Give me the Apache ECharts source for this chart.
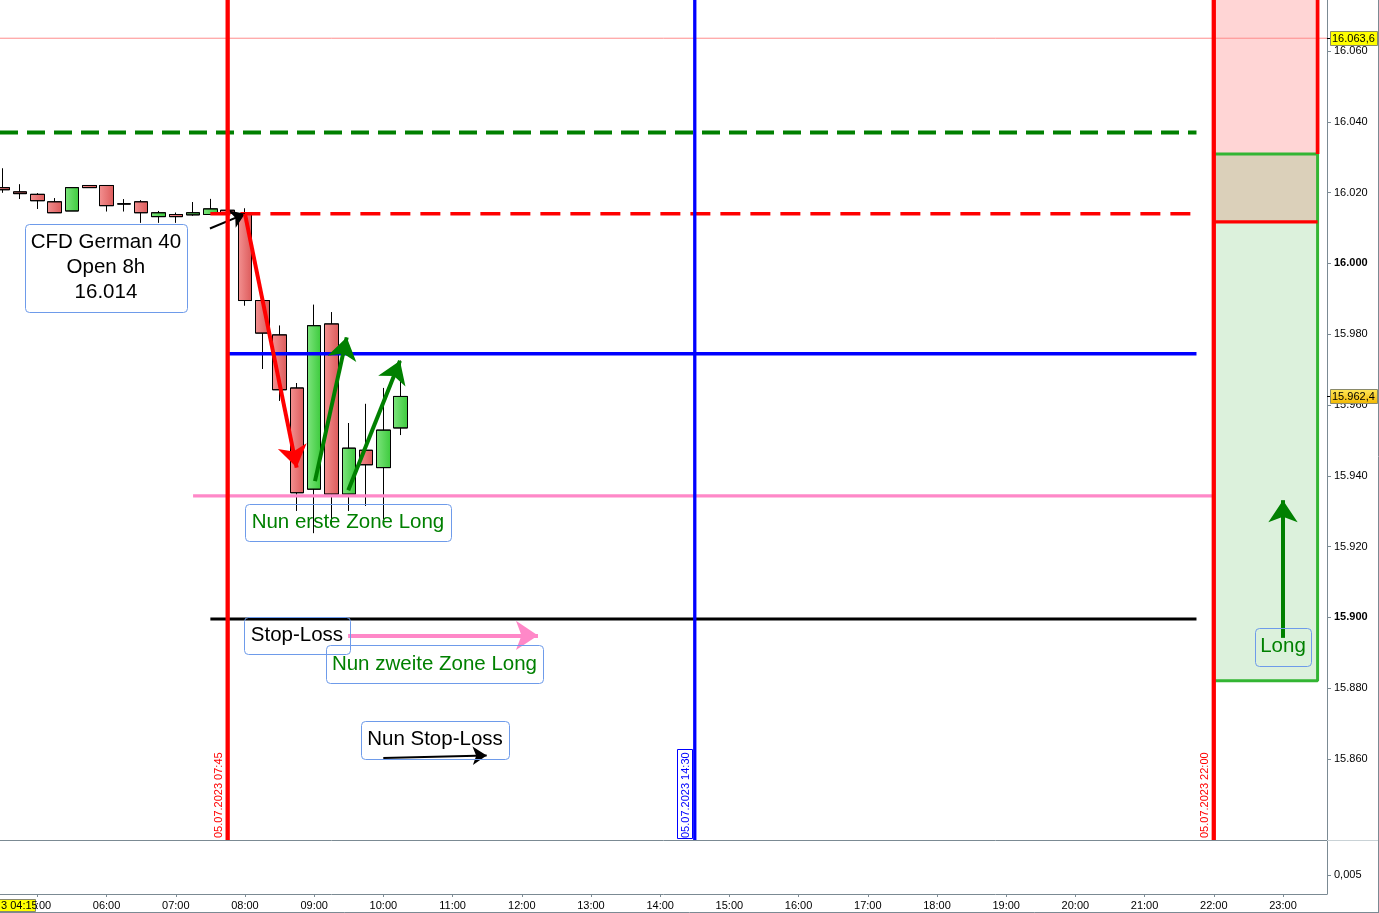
<!DOCTYPE html>
<html><head><meta charset="utf-8">
<script src="https://cdn.jsdelivr.net/npm/echarts@6/dist/echarts.min.js"></script>
<style>html,body{margin:0;padding:0;background:#fff;overflow:hidden}#c{width:1379px;height:913px}</style>
</head><body><div id="c"></div>
<script>
// ---------- data ----------
const hourTicks = [5,6,7,8,9,10,11,12,13,14,15,16,17,18,19,20,21,22,23];
const priceTicks = [15860,15880,15900,15920,15940,15960,15980,16000,16020,16040,16060];
const candleTimes = ['04:30','04:45','05:00','05:15','05:30','05:45','06:00','06:15','06:30','06:45','07:00','07:15','07:30','07:45','08:00','08:15','08:30','08:45','09:00','09:15','09:30','09:45','10:00','10:15'];
const candleOpen  = [16021.4,16020.2,16019.5,16017.4,16014.8,16022.0,16022.0,16016.8,16017.4,16013.2,16013.8,16013.7,16013.8,16015.0,16014.0,15989.5,15979.8,15964.8,15936.2,15982.9,15934.8,15947.2,15942.3,15953.5];
const candleClose = [16020.8,16019.7,16017.7,16014.3,16021.4,16021.4,16016.3,16016.8,16014.3,16014.3,16013.2,16014.3,16015.4,16014.2,15989.5,15980.3,15964.3,15935.2,15982.4,15934.8,15947.8,15943.1,15952.9,15962.4];
const candleLow   = [16020.0,16018.2,16015.4,16014.3,16014.8,16021.4,16014.7,16014.7,16011.5,16011.5,16011.5,16013.5,16013.8,16013.8,15988.1,15970.2,15961.2,15930.1,15923.8,15926.4,15930.1,15931.5,15927.8,15951.5];
const candleHigh  = [16026.8,16022.3,16019.8,16018.4,16021.4,16022.0,16022.0,16018.1,16017.8,16014.8,16014.3,16017.3,16018.2,16015.5,16015.5,15990.0,15982.4,15966.2,15988.3,15986.2,15954.9,15960.3,15964.8,15972.5];

const levelThin = 16063.6;
const levelGreenDash = 16037.0;
const levelOpen = 16014.0;
const levelBlue = 15974.5;
const levelPink = 15934.3;
const levelStop = 15899.5;
const lastPrice = 15962.4;

const zoneTimes = ['22:00','23:30'];
const zoneRedLow = 16011.7;
const zoneGreenHigh = 16030.9;
const zoneGreenLow = 15882.1;

const markerTimes = ['07:45','14:30','22:00'];
const markerLabels = ['05.07.2023 07:45','05.07.2023 14:30','05.07.2023 22:00'];

const noteTexts = ['CFD German 40\nOpen 8h\n16.014','Nun erste Zone Long','Stop-Loss','Nun zweite Zone Long','Nun Stop-Loss','Long'];
const noteAnchors = [[5.991,15998.8],[9.488,15926.8],[8.751,15894.85],[10.738,15886.8],[10.746,15865.3],[23.0,15891.6]];

const arrowFrom = [[7.494,16009.85],[8.0,16014.0],[9.012,15938.5],[9.493,15935.9],[9.49,15894.9],[9.999,15860.3],[23.0,15894.2]];
const arrowTo   = [[8.0,16014.0],[8.747,15942.3],[9.470,15979.1],[10.240,15972.5],[12.234,15894.9],[11.493,15861.0],[23.0,15933.1]];

// ---------- helpers ----------
const toH = s => { const [h,m] = s.split(':').map(Number); return h + m/60; };
const FONT = '"Liberation Sans", Arial, sans-serif';
const axisColor = '#7b8a93';
const xMin = 4.46, xMax = 23.636;
const yMin = 15837.1, yMax = 16074.4;
const fmtPrice = v => { const r = Math.round(v); const t = Math.floor(r/1000); const u = String(r%1000).padStart(3,'0'); return t + '.' + u; };

function seg(points, color, width, type, z) {
  return { type:'line', xAxisIndex:0, yAxisIndex:0, data:points, showSymbol:false, symbol:'none',
    lineStyle:{color, width, type: type || 'solid', cap:'butt'}, z: z || 4, silent:true, animation:false };
}

const chart = echarts.init(document.getElementById('c'), null, {renderer:'canvas'});

const candleData = candleTimes.map((t,i) => [toH(t), candleOpen[i], candleClose[i], candleLow[i], candleHigh[i]]);
const zx0 = toH(zoneTimes[0]), zx1 = toH(zoneTimes[1]);
const endH = toH('21:45');

const series = [
  { type:'line', xAxisIndex:0, yAxisIndex:0, data:[], z:1, silent:true,
    markArea:{ silent:true, data:[
      [{coord:[zx0, zoneGreenHigh], itemStyle:{color:'#ffd5d5'}}, {coord:[zx1, yMax]}],
      [{coord:[zx0, zoneRedLow], itemStyle:{color:'#dbd0ba'}}, {coord:[zx1, zoneGreenHigh]}],
      [{coord:[zx0, zoneGreenLow], itemStyle:{color:'#dcf1dc'}}, {coord:[zx1, zoneRedLow]}]
    ]}},
  { type:'candlestick', xAxisIndex:0, yAxisIndex:0, z:3, barWidth:14,
    dimensions:['t','open','close','low','high'], encode:{x:0, y:[1,2,3,4]},
    data: candleData, animation:false,
    itemStyle:{
      color: new echarts.graphic.LinearGradient(0,0,1,0,[{offset:0,color:'#7ee57e'},{offset:1,color:'#3cca3c'}]),
      color0: new echarts.graphic.LinearGradient(0,0,1,0,[{offset:0,color:'#f39191'},{offset:1,color:'#dc5a5a'}]),
      borderColor:'#000', borderColor0:'#000', borderWidth:1
    }},
  // horizontal levels
  seg([[xMin, levelThin],[xMax, levelThin]], '#ff8c8c', 1, 'solid', 5),
  seg([[xMin, levelGreenDash],[endH, levelGreenDash]], '#008000', 4, [18,9], 4),
  seg([[toH('07:30'), levelOpen],[endH, levelOpen]], '#ff0000', 3.5, [20,10], 4),
  seg([[toH('07:45'), levelBlue],[endH, levelBlue]], '#0000ff', 3.5, 'solid', 4),
  seg([[toH('07:15'), levelPink],[zx0, levelPink]], '#ff88c8', 3.3, 'solid', 4),
  seg([[toH('07:30'), levelStop],[endH, levelStop]], '#000000', 3, 'solid', 4),
  // zone borders
  seg([[zx0, zoneGreenHigh],[zx1, zoneGreenHigh],[zx1, zoneGreenLow],[zx0, zoneGreenLow]], '#33b533', 3, 'solid', 4),
  seg([[zx0, zoneRedLow],[zx1, zoneRedLow]], '#ff0000', 3.3, 'solid', 5),
  seg([[zx1, yMax],[zx1, zoneGreenHigh]], '#ff0000', 3.7, 'solid', 5),
  // vertical markers
  seg([[toH(markerTimes[0]), yMin],[toH(markerTimes[0]), yMax]], '#ff0000', 4.3, 'solid', 6),
  seg([[toH(markerTimes[1]), yMin],[toH(markerTimes[1]), yMax]], '#0000ff', 3.3, 'solid', 6),
  seg([[toH(markerTimes[2]), yMin],[toH(markerTimes[2]), yMax]], '#ff0000', 4.3, 'solid', 6)
];

const option = {
  animation:false,
  backgroundColor:'#ffffff',
  grid:[
    {left:0, top:0, width:1327, height:840, show:false},
    {left:0, top:840, width:1327, height:54, show:false}
  ],
  xAxis:[
    {type:'value', gridIndex:0, min:xMin, max:xMax, axisLine:{show:true, onZero:false, lineStyle:{color:axisColor}},
     axisTick:{show:false}, axisLabel:{show:false}, splitLine:{show:false}},
    {type:'value', gridIndex:1, min:xMin, max:xMax, axisLine:{show:true, onZero:false, lineStyle:{color:axisColor}},
     axisTick:{show:true, customValues:hourTicks, length:3, lineStyle:{color:axisColor}},
     axisLabel:{customValues:hourTicks, formatter: v => String(Math.round(v)).padStart(2,'0') + ':00',
       color:'#000', fontSize:11, fontFamily:FONT, margin:6}, splitLine:{show:false}}
  ],
  yAxis:[
    {type:'value', gridIndex:0, position:'right', min:yMin, max:yMax, splitLine:{show:false},
     axisLine:{show:true, onZero:false, lineStyle:{color:axisColor}},
     axisTick:{show:true, customValues:priceTicks, length:4, lineStyle:{color:axisColor}},
     axisLabel:{customValues:priceTicks, color:'#000', fontSize:11, fontFamily:FONT, margin:7,
       formatter: v => (Math.round(v) % 100 === 0 ? '{b|' + fmtPrice(v) + '}' : fmtPrice(v)),
       rich:{b:{fontWeight:'bold', fontSize:11, fontFamily:FONT, color:'#000'}}}},
    {type:'value', gridIndex:1, position:'right', min:0, max:0.0142, splitLine:{show:false},
     axisLine:{show:true, onZero:false, lineStyle:{color:axisColor}},
     axisTick:{show:true, customValues:[0.005], length:4, lineStyle:{color:axisColor}},
     axisLabel:{customValues:[0.005], formatter: () => '0,005', color:'#000', fontSize:11, fontFamily:FONT, margin:7}}
  ],
  series
};
chart.setOption(option);

// ---------- annotations (placed from data coordinates) ----------
const P = (h, v) => chart.convertToPixel({xAxisIndex:0, yAxisIndex:0}, [h, v]);

const noteStyle = [
  {w:162, h:88, color:'#000', lh:25},
  {w:206, h:37, color:'#008000', lh:24},
  {w:106, h:37, color:'#000', lh:24},
  {w:217, h:38, color:'#008000', lh:24},
  {w:148, h:38, color:'#000', lh:24, dy:-1},
  {w:56,  h:38, color:'#008000', lh:24, dy:-1}
];
const graphics = [];
noteTexts.forEach((txt, i) => {
  const p = P(noteAnchors[i][0], noteAnchors[i][1]);
  const s = noteStyle[i];
  graphics.push({type:'rect', silent:true, z:20, shape:{x:Math.round(p[0]-s.w/2)+0.5, y:Math.round(p[1]-s.h/2)+0.5, width:s.w, height:s.h, r:4},
    style:{fill:'none', stroke:'#6e9bea', lineWidth:1}});
  graphics.push({type:'text', silent:true, z:21, x:p[0], y:p[1] + (s.dy||0),
    style:{text:txt, fill:s.color, font:'20.5px ' + FONT, align:'center', verticalAlign:'middle', lineHeight:s.lh}});
});

// vertical date markers
const markerColors = ['#ff0000','#0000ff','#ff0000'];
markerTimes.forEach((t, i) => {
  const p = P(toH(t), yMin);
  graphics.push({type:'text', silent:true, z:21, x:p[0]-9, y:p[1]-2, rotation:Math.PI/2,
    style:{text:markerLabels[i], fill:markerColors[i], font:'11px ' + FONT, align:'left', verticalAlign:'middle'}});
  if (i === 1) {
    graphics.push({type:'rect', silent:true, z:20, shape:{x:Math.round(p[0]-18)+0.5, y:Math.round(p[1]-91)+0.5, width:15, height:89},
      style:{fill:'none', stroke:'#0000ff', lineWidth:1}});
  }
});

// price tags on right axis
function priceTag(val, fill) {
  const p = P(xMax, val);
  graphics.push({type:'line', silent:true, z:20, shape:{x1:p[0], y1:Math.round(p[1])+0.5, x2:p[0]+4, y2:Math.round(p[1])+0.5}, style:{stroke:'#000', lineWidth:1}});
  graphics.push({type:'rect', silent:true, z:22, shape:{x:p[0]+3.5, y:Math.round(p[1]-7)+0.5, width:47, height:14},
    style:{fill, stroke:'#8a8a6a', lineWidth:1}});
  graphics.push({type:'text', silent:true, z:23, x:p[0]+5, y:Math.round(p[1])+0.5,
    style:{text:fmtPrice(Math.floor(val)) + ',' + Math.round((val*10)%10), fill:'#000', font:'11px ' + FONT, align:'left', verticalAlign:'middle'}});
}
priceTag(levelThin, '#ffff00');
priceTag(lastPrice, new echarts.graphic.LinearGradient(0,0,0,1,[{offset:0,color:'#ffe85a'},{offset:1,color:'#f2b700'}]));

// cursor time tag bottom-left
graphics.push({type:'rect', silent:true, z:22, shape:{x:-0.5, y:899.5, width:36, height:12}, style:{fill:'#ffff00', stroke:'#8a8a6a', lineWidth:1}});
graphics.push({type:'text', silent:true, z:23, x:1, y:906, style:{text:'3 04:15', fill:'#000', font:'11px ' + FONT, align:'left', verticalAlign:'middle'}});

// frame lines
graphics.push({type:'line', silent:true, z:10, shape:{x1:1327, y1:840.5, x2:1379, y2:840.5}, style:{stroke:'#c9d2d6', lineWidth:1}});
graphics.push({type:'line', silent:true, z:10, shape:{x1:1378.5, y1:0, x2:1378.5, y2:913}, style:{stroke:'#7b8a93', lineWidth:1}});
graphics.push({type:'line', silent:true, z:10, shape:{x1:0, y1:912.5, x2:1379, y2:912.5}, style:{stroke:'#7b8a93', lineWidth:1}});

// arrows
const arrowColors = ['#000000','#ff0000','#008000','#008000','#ff88c8','#000000','#008000'];
const arrowWidths = [2, 4, 4, 4, 4, 2, 4];
const arrowHeads  = [14, 22, 22, 22, 22, 14, 22];
const arrowLines = arrowFrom.map((f, i) => ([
  {coord:[f[0], f[1]], lineStyle:{color:arrowColors[i], width:arrowWidths[i], type:'solid'}, symbolSize:arrowHeads[i]},
  {coord:[arrowTo[i][0], arrowTo[i][1]], symbolSize:arrowHeads[i]}
]));

chart.setOption({
  graphic: graphics,
  series: series.concat([{ type:'line', xAxisIndex:0, yAxisIndex:0, data:[], z:8, silent:true,
    markLine:{ silent:true, symbol:['none','arrow'], label:{show:false}, emphasis:{disabled:true}, animation:false,
      data: arrowLines }}])
});
</script>
</body></html>
